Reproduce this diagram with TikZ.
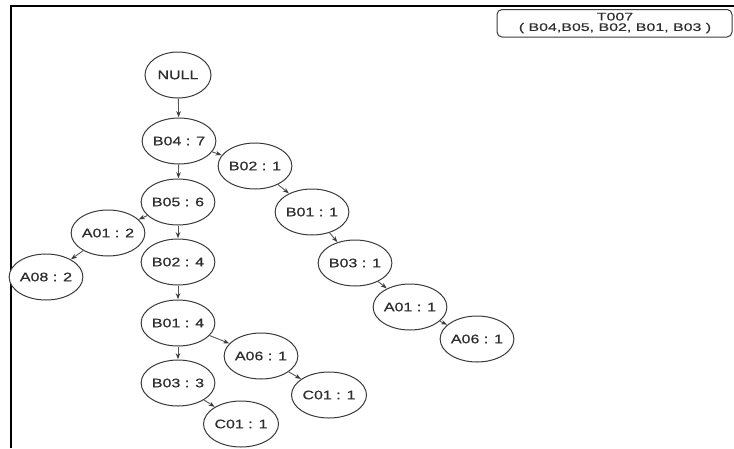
\documentclass[tikz,border=0pt]{standalone}
\usepackage{fontspec}
\setmainfont{Liberation Sans}
\newfontfamily\treefont[FakeStretch=1.3,FakeBold=0.6]{Liberation Sans}
\newfontfamily\setfont[FakeStretch=1.45,FakeBold=0.5]{Liberation Sans}
\usetikzlibrary{arrows.meta,shapes.geometric}
\definecolor{inkline}{HTML}{3A3A3A}
\definecolor{inktext}{HTML}{2E2E2E}
\definecolor{edgegray}{HTML}{555555}
\tikzset{
  item/.style={ellipse, draw=inkline, line width=1pt, fill=white,
    minimum width=66pt, minimum height=46pt, inner sep=0pt,
    text=inktext, font=\treefont\fontsize{12.3}{14}\selectfont},
  link/.style={draw=edgegray, line width=0.9pt,
    -{Stealth[length=6pt,width=4.5pt,inkline]}, shorten >=0.3pt},
}
\begin{document}
\begin{tikzpicture}[x=1pt,y=-1pt]
\useasboundingbox (0,0) rectangle (734,448);
% outer frame (top and left edges)
\draw[line width=2pt, black] (11,448) -- (11,5.5) -- (734,5.5);
% transaction label
\draw[inkline, line width=1pt, rounded corners=5pt] (497,9.5) rectangle (732,37);
\node[text=inktext, font=\setfont\fontsize{11}{12}\selectfont, align=center]
  (tx) at (615,23) {T007\\[-1.5pt]( B04,B05, B02, B01, B03 )};
% tree nodes
\node[item] (null) at (178,75)  {NULL};
\node[item] (b04)  at (179,141) {B04 : 7};
\node[item] (b05)  at (178,202) {B05 : 6};
\node[item] (b02b) at (178,262) {B02 : 4};
\node[item] (b01b) at (178,323) {B01 : 4};
\node[item] (b03b) at (178,383) {B03 : 3};
\node[item] (c01b) at (241,424) {C01 : 1};
\node[item] (a06b) at (261,356) {A06 : 1};
\node[item] (c01a) at (329,395) {C01 : 1};
\node[item] (a01b) at (108,233) {A01 : 2};
\node[item] (a08)  at (46,277)  {A08 : 2};
\node[item] (b02a) at (255,166) {B02 : 1};
\node[item] (b01a) at (312,212) {B01 : 1};
\node[item] (b03a) at (355,263) {B03 : 1};
\node[item] (a01a) at (410,307) {A01 : 1};
\node[item] (a06a) at (477,339) {A06 : 1};
% connectors
\draw[link] (null) -- (b04);
\draw[link] (b04) -- (b05);
\draw[link] (b04) -- (b02a);
\draw[link] (b02a) -- (b01a);
\draw[link] (b01a) -- (b03a);
\draw[link] (b03a) -- (a01a);
\draw[link] (a01a) -- (a06a);
\draw[link] (b05) -- (a01b);
\draw[link] (a01b) -- (a08);
\draw[link] (b05) -- (b02b);
\draw[link] (b02b) -- (b01b);
\draw[link] (b01b) -- (b03b);
\draw[link] (b01b) -- (a06b);
\draw[link] (a06b) -- (c01a);
\draw[link] (b03b) -- (c01b);
\end{tikzpicture}
\end{document}
